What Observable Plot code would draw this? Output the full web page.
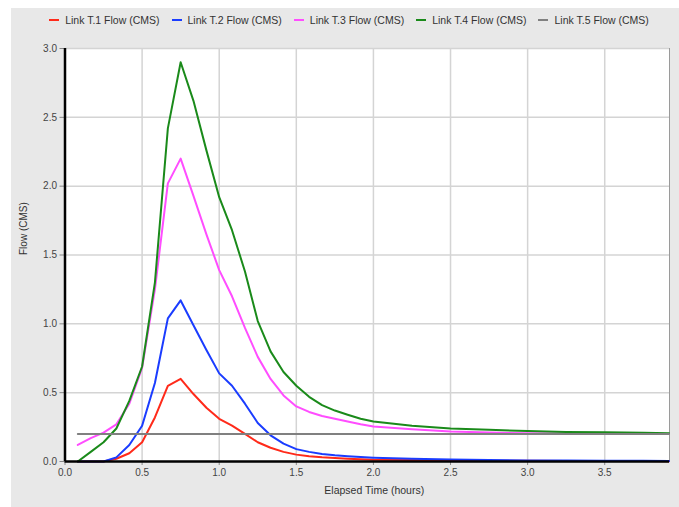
<!DOCTYPE html>
<html><head><meta charset="utf-8">
<script src="https://cdn.jsdelivr.net/npm/d3@7"></script>
<script src="https://cdn.jsdelivr.net/npm/@observablehq/plot@0.6"></script>
<style>
body{margin:0;background:#fff;}
#panel{position:absolute;left:11px;top:8px;width:668px;height:499px;background:#e8e8e8;font-family:"Liberation Sans",Arial,sans-serif;}
#legend{height:24px;display:flex;justify-content:center;align-items:center;font-size:10.5px;color:#333;padding-left:8px;}
.item{display:flex;align-items:center;margin:0 6px;white-space:nowrap;}
.sw{width:10px;height:2px;margin-right:6px;}
#chart svg{display:block;}
</style></head>
<body>
<div id="panel"><div id="legend"></div><div id="chart"></div></div>
<script>
const time = [0.083,0.167,0.25,0.333,0.417,0.5,0.583,0.667,0.75,0.833,0.917,1.0,1.083,1.167,1.25,1.333,1.417,1.5,1.583,1.667,1.75,1.833,1.917,2.0,2.25,2.5,2.75,3.0,3.25,3.5,3.75,3.917];
const t1 = [0,0,0,0.02,0.06,0.14,0.32,0.55,0.60,0.49,0.39,0.31,0.26,0.20,0.14,0.10,0.07,0.05,0.038,0.03,0.025,0.02,0.016,0.013,0.011,0.008,0.006,0.005,0.004,0.003,0.003,0.002];
const t2 = [0,0,0,0.03,0.12,0.26,0.57,1.04,1.17,0.99,0.81,0.64,0.55,0.42,0.28,0.19,0.13,0.09,0.07,0.055,0.045,0.038,0.032,0.028,0.02,0.014,0.01,0.008,0.007,0.006,0.005,0.004];
const t3 = [0.12,0.17,0.21,0.27,0.42,0.68,1.25,2.02,2.20,1.93,1.65,1.39,1.20,0.97,0.76,0.60,0.48,0.40,0.36,0.33,0.31,0.29,0.27,0.255,0.235,0.218,0.21,0.205,0.203,0.202,0.201,0.2];
const t4 = [0,0.07,0.14,0.24,0.44,0.69,1.30,2.42,2.90,2.62,2.26,1.92,1.68,1.38,1.02,0.80,0.65,0.55,0.47,0.41,0.37,0.34,0.31,0.29,0.26,0.24,0.23,0.221,0.215,0.212,0.208,0.205];
const t5 = [0.2,0.2,0.2,0.2,0.2,0.2,0.2,0.2,0.2,0.2,0.2,0.2,0.2,0.2,0.2,0.2,0.2,0.2,0.2,0.2,0.2,0.2,0.2,0.2,0.2,0.2,0.2,0.2,0.2,0.2,0.2,0.2];
const seriesNames = ["Link T.1 Flow (CMS)","Link T.2 Flow (CMS)","Link T.3 Flow (CMS)","Link T.4 Flow (CMS)","Link T.5 Flow (CMS)"];
const seriesColors = ["#ff2a1a","#1a3cff","#ff4dff","#1a8a1a","#808080"];
const xTicks = [0,0.5,1,1.5,2,2.5,3,3.5];
const yTicks = [0,0.5,1,1.5,2,2.5,3];
const xLabel = "Elapsed Time (hours)";
const yLabel = "Flow (CMS)";

const values = [t1,t2,t3,t4,t5];
const rows = values.flatMap((vals,i)=>vals.map((v,j)=>({t:time[j], v, s:seriesNames[i]})));

const legend = document.getElementById("legend");
seriesNames.forEach((n,i)=>{
  const it = document.createElement("div"); it.className="item";
  const sw = document.createElement("span"); sw.className="sw"; sw.style.background=seriesColors[i];
  const tx = document.createElement("span"); tx.textContent=n;
  it.appendChild(sw); it.appendChild(tx); legend.appendChild(it);
});

const gridStyle = {stroke:"#d4d4d4", strokeOpacity:1, strokeWidth:1.5};
const chart = Plot.plot({
  width:668, height:475, marginTop:16, marginRight:10, marginBottom:46, marginLeft:53.5,
  style:{background:"transparent", fontFamily:"Liberation Sans, Arial, sans-serif", fontSize:"10px", color:"#444"},
  x:{domain:[0,3.92], label:null},
  y:{domain:[0,3], label:null},
  color:{domain:seriesNames, range:seriesColors},
  marks:[
    Plot.frame({fill:"white", stroke:"#9a9a9a"}),
    Plot.gridX(xTicks.slice(1), gridStyle),
    Plot.gridY(yTicks.slice(1), gridStyle),
    Plot.axisX(xTicks, {tickSize:4, tickPadding:3, stroke:"#888", fill:"#444", label:null}),
    Plot.axisY(yTicks, {tickSize:5, tickPadding:3, tickFormat:".1f", stroke:"#888", fill:"#444", label:null}),
    Plot.lineY(rows, {x:"t", y:"v", z:"s", stroke:"s", strokeWidth:2}),
    Plot.ruleX([0], {stroke:"black", strokeWidth:2.5}),
    Plot.ruleY([0], {stroke:"black", strokeWidth:2.5}),
    Plot.text([xLabel], {frameAnchor:"bottom", lineAnchor:"middle", dy:29, dx:7, fontSize:10.5, fill:"#333"}),
    Plot.text([yLabel], {frameAnchor:"left", rotate:-90, dx:-41.5, fontSize:10, fill:"#333"})
  ]
});
document.getElementById("chart").appendChild(chart);
</script>
</body></html>
